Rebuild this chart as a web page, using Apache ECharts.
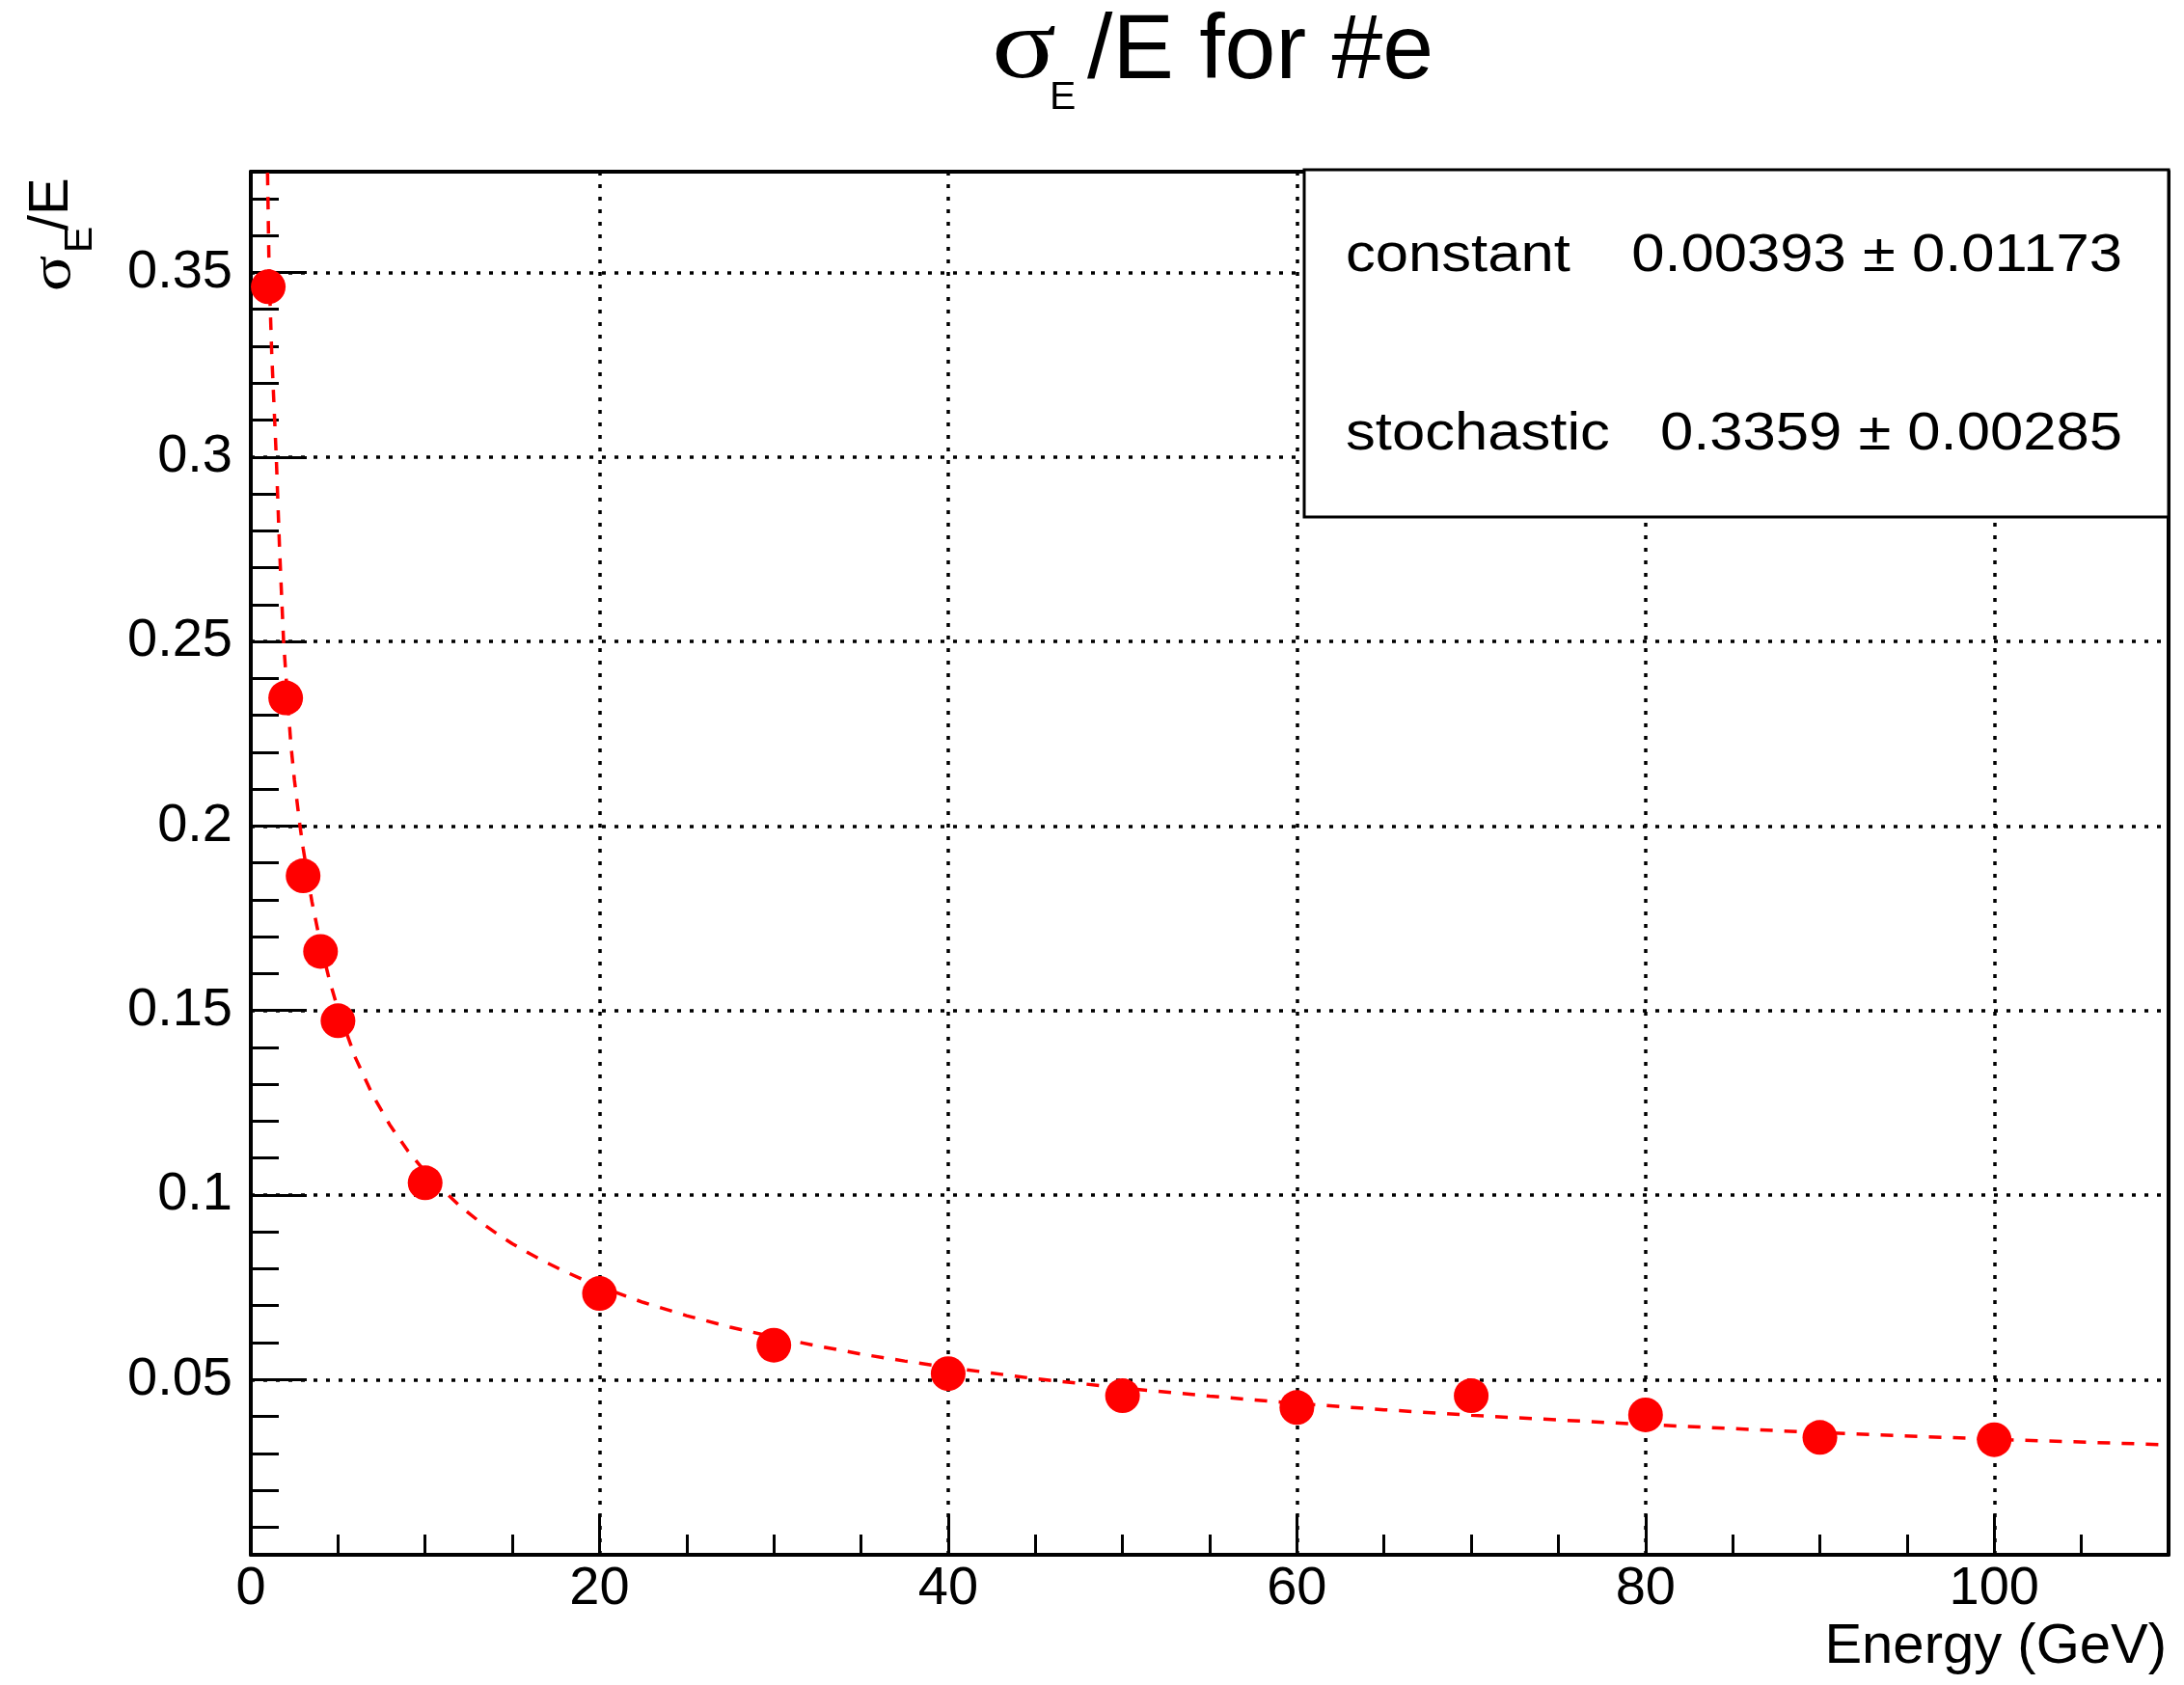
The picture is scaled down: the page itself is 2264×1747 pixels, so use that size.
<!DOCTYPE html>
<html>
<head>
<meta charset="utf-8">
<title>sigma_E/E for #e</title>
<script src="https://cdn.jsdelivr.net/npm/echarts@6/dist/echarts.min.js"></script>
<style>
  html, body { margin: 0; padding: 0; background: #fff; }
  #chart { width: 2264px; height: 1747px; }
</style>
</head>
<body>
<div id="chart"></div>
<script>
// measured points (energy in GeV, sigma_E/E)
const energy = [1, 2, 3, 4, 5, 10, 20, 30, 40, 50, 60, 70, 80, 90, 100]
const sigmaOverE = [0.3461, 0.2347, 0.1865, 0.166, 0.1472, 0.1033, 0.0733, 0.0593, 0.0516, 0.0456, 0.0424, 0.0456, 0.0404, 0.0343, 0.0337]

// dashed fit curve
const fitEnergy = [0.96, 1.05, 1.2, 1.46, 1.65, 1.88, 2.1, 2.3, 2.5, 2.82, 3, 3.5, 4, 4.5, 5, 6, 7, 8, 9, 10, 11, 12, 13, 14, 15, 16, 17, 18, 19, 20, 22.5, 25, 27.5, 30, 32.5, 35, 37.5, 40, 45, 50, 55, 60, 65, 70, 80, 90, 100, 110]
const fitValue = [0.377, 0.35, 0.328, 0.3, 0.275, 0.25, 0.235, 0.222, 0.2125, 0.2, 0.194, 0.1796, 0.168, 0.1584, 0.1503, 0.1372, 0.127, 0.1188, 0.112, 0.1063, 0.1014, 0.097, 0.0932, 0.0899, 0.0868, 0.0841, 0.0816, 0.0793, 0.0772, 0.0752, 0.0709, 0.0673, 0.0642, 0.0615, 0.0591, 0.0569, 0.055, 0.0533, 0.0502, 0.0477, 0.0455, 0.0435, 0.0418, 0.0403, 0.0378, 0.0356, 0.0338, 0.0323]

// fit parameters shown in the stats box
const statNames = ['constant', 'stochastic']
const statValues = ['0.00393 \u00b1 0.01173', '0.3359 \u00b1 0.00285']

const xRange = [0, 110]
const yRange = [0.0025, 0.3773]

const FONT = '"Liberation Sans", Arial, Helvetica, sans-serif'
const SERIF = '"Liberation Serif", "Times New Roman", serif'

const chart = echarts.init(document.getElementById('chart'))

const frameAxis = {
  type: 'value',
  axisLine: { show: true, onZero: false, lineStyle: { color: '#000', width: 4 } },
  axisTick: { show: false },
  axisLabel: { show: false },
  splitLine: { show: false }
}

// stats box text is a bit wider than plain Helvetica
const statText = (x, y, text, align) => ({
  type: 'text', z: 11, x: x, y: y, scaleX: 1.12,
  style: { text: text, font: '55px ' + FONT, fill: '#000', align: align, verticalAlign: 'middle' }
})

const option = {
  backgroundColor: '#fff',
  animation: false,
  grid: { left: 260, right: 16, top: 178, bottom: 135, containLabel: false },
  xAxis: [
    {
      type: 'value',
      min: xRange[0],
      max: xRange[1],
      minInterval: 20,
      maxInterval: 20,
      splitNumber: 5,
      position: 'bottom',
      axisLine: { onZero: false, lineStyle: { color: '#000', width: 4 } },
      axisTick: { inside: true, length: 42, lineStyle: { color: '#000', width: 3 } },
      minorTick: { show: true, splitNumber: 4, length: 21, lineStyle: { color: '#000', width: 3 } },
      axisLabel: { color: '#000', fontSize: 56, fontFamily: FONT, margin: 8, showMaxLabel: false },
      splitLine: { show: true, lineStyle: { color: '#000', width: 3.5, type: [4, 9] } }
    },
    Object.assign({}, frameAxis, { position: 'top', min: xRange[0], max: xRange[1] })
  ],
  yAxis: [
    {
      type: 'value',
      min: yRange[0],
      max: yRange[1],
      minInterval: 0.05,
      maxInterval: 0.05,
      splitNumber: 7,
      position: 'left',
      axisLine: { onZero: false, lineStyle: { color: '#000', width: 4 } },
      axisTick: { inside: true, length: 58, lineStyle: { color: '#000', width: 3 } },
      minorTick: { show: true, splitNumber: 5, length: 29, lineStyle: { color: '#000', width: 3 } },
      axisLabel: { color: '#000', fontSize: 56, fontFamily: FONT, margin: 19, showMinLabel: false, showMaxLabel: false },
      splitLine: { show: true, lineStyle: { color: '#000', width: 3.5, type: [4, 9] } }
    },
    Object.assign({}, frameAxis, { position: 'right', min: yRange[0], max: yRange[1] })
  ],
  series: [
    {
      name: 'fit',
      type: 'line',
      data: fitEnergy.map((e, i) => [e, fitValue[i]]),
      showSymbol: false,
      smooth: false,
      clip: true,
      lineStyle: { color: '#ff0000', width: 3.5, type: [13, 12] },
      z: 3
    },
    {
      name: 'sigma',
      type: 'scatter',
      data: energy.map((e, i) => [e, sigmaOverE[i]]),
      symbol: 'circle',
      symbolSize: 36,
      itemStyle: { color: '#ff0000', opacity: 1 },
      z: 4
    }
  ],
  graphic: [
    // title
    { type: 'text', x: 1028, y: 53, scaleX: 1.2, style: { text: '\u03c3', font: '104px ' + SERIF, fill: '#000', align: 'left', verticalAlign: 'middle' } },
    { type: 'text', x: 1088, y: 102, style: { text: 'E', font: '41px ' + FONT, fill: '#000', align: 'left', verticalAlign: 'middle' } },
    { type: 'text', x: 1127, y: 55, style: { text: '/E for #e', font: '95px ' + FONT, fill: '#000', align: 'left', verticalAlign: 'middle' } },
    // y axis title, rotated
    {
      type: 'group',
      x: 73,
      y: 302,
      rotation: Math.PI / 2,
      children: [
        { type: 'text', x: 0, y: -17, scaleX: 1.15, style: { text: '\u03c3', font: '60px ' + SERIF, fill: '#000', align: 'left', verticalAlign: 'middle' } },
        { type: 'text', x: 40, y: 11, style: { text: 'E', font: '41px ' + FONT, fill: '#000', align: 'left', verticalAlign: 'middle' } },
        { type: 'text', x: 63, y: -19, style: { text: '/E', font: '58px ' + FONT, fill: '#000', align: 'left', verticalAlign: 'middle' } }
      ]
    },
    // x axis title
    { type: 'text', x: 2246, y: 1708, style: { text: 'Energy (GeV)', font: '58px ' + FONT, fill: '#000', align: 'right', verticalAlign: 'middle' } },
    // stats box
    {
      type: 'rect',
      z: 10,
      shape: { x: 1352, y: 176, width: 896, height: 360 },
      style: { fill: '#fff', stroke: '#000', lineWidth: 3 }
    },
    statText(1395, 266, statNames[0], 'left'),
    statText(2200, 266, statValues[0], 'right'),
    statText(1395, 451, statNames[1], 'left'),
    statText(2200, 451, statValues[1], 'right')
  ]
}

chart.setOption(option)
window.addEventListener('resize', () => chart.resize())
</script>
</body>
</html>
